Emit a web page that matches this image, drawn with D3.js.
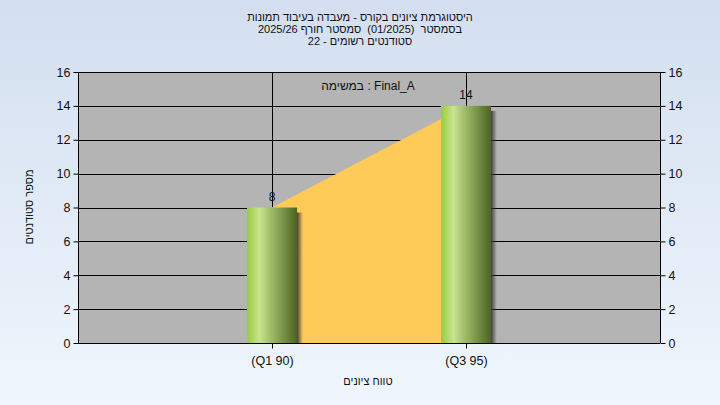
<!DOCTYPE html>
<html><head><meta charset="utf-8">
<script src="https://cdn.jsdelivr.net/npm/d3@7"></script>
<style>
html,body{margin:0;padding:0;}
svg{display:block;font-family:"Liberation Sans",Arial,sans-serif;}
</style></head>
<body>
<svg id="chart" width="720" height="405"></svg>
<script>
const categories = ["(Q1 90)", "(Q3 95)"];
const values = [8, 14];
const yTicks = [0, 2, 4, 6, 8, 10, 12, 14, 16];
const titleLines = ["היסטוגרמת ציונים בקורס - מעבדה בעיבוד תמונות", "בסמסטר  (01/2025)  סמסטר חורף 2025/26", "סטודנטים רשומים - 22"];
const annotation = "במשימה : Final_A";
const xTitle = "טווח ציונים";
const yTitle = "מספר סטודנטים";

const W = 720, H = 405;
const svg = d3.select("#chart");
const defs = svg.append("defs");

const bg = defs.append("linearGradient").attr("id","bg").attr("x1",0).attr("y1",0).attr("x2",0).attr("y2",1);
bg.append("stop").attr("offset","0%").attr("stop-color","#d3dff0");
bg.append("stop").attr("offset","100%").attr("stop-color","#eff6fd");
svg.append("rect").attr("width",W).attr("height",H).attr("fill","url(#bg)");

const barG = defs.append("linearGradient").attr("id","barg").attr("x1",0).attr("y1",0).attr("x2",1).attr("y2",0);
[[0,"#9acb3e"],[0.25,"#c8e48e"],[0.55,"#94b060"],[1,"#4b6422"]].forEach(([o,c])=>barG.append("stop").attr("offset",o).attr("stop-color",c));
const shG = defs.append("linearGradient").attr("id","shg").attr("x1",0).attr("y1",0).attr("x2",1).attr("y2",0);
shG.append("stop").attr("offset","0%").attr("stop-color","#333").attr("stop-opacity",0.9);
shG.append("stop").attr("offset","100%").attr("stop-color","#333").attr("stop-opacity",0);

const m = {l:78, r:660, t:72, b:343};
const x = d3.scaleLinear().domain([0, categories.length+1]).range([m.l, m.r]);
const y = d3.scaleLinear().domain([0, 16]).range([m.b, m.t]);
const barW = 50;

// plot background
svg.append("rect").attr("x",m.l).attr("y",m.t).attr("width",m.r-m.l).attr("height",m.b-m.t).attr("fill","#b4b4b4");

// grid
svg.append("g").selectAll("line").data(yTicks).join("line")
  .attr("x1",m.l).attr("x2",m.r).attr("y1",d=>Math.round(y(d))+0.5).attr("y2",d=>Math.round(y(d))+0.5)
  .attr("stroke","#000").attr("stroke-width",1);
svg.append("g").selectAll("line").data(categories).join("line")
  .attr("x1",(d,i)=>Math.round(x(i+1))+0.5).attr("x2",(d,i)=>Math.round(x(i+1))+0.5)
  .attr("y1",m.t).attr("y2",m.b).attr("stroke","#000").attr("stroke-width",1);

// area
const area = d3.area().x((d,i)=>x(i+1)).y0(y(0)).y1(d=>y(d));
svg.append("path").datum(values).attr("d",area).attr("fill","#fecb58");

// bar shadows
svg.append("g").selectAll("rect").data(values).join("rect")
  .attr("x",(d,i)=>x(i+1)+barW/2).attr("y",d=>y(d)+5).attr("width",6).attr("height",d=>y(0)-y(d)-5)
  .attr("fill","url(#shg)");
// bars
svg.append("g").selectAll("rect").data(values).join("rect")
  .attr("x",(d,i)=>x(i+1)-barW/2).attr("y",d=>y(d)).attr("width",barW).attr("height",d=>y(0)-y(d))
  .attr("fill","url(#barg)");

// axes
const yl = d3.axisLeft(y).tickValues(yTicks).tickSize(5).tickPadding(3);
const yr = d3.axisRight(y).tickValues(yTicks).tickSize(5).tickPadding(3);
const gl = svg.append("g").attr("transform",`translate(${m.l+0.5},0)`).call(yl);
const gr = svg.append("g").attr("transform",`translate(${m.r+0.5},0)`).call(yr);
const xb = d3.axisBottom(d3.scaleLinear().domain(x.domain()).range(x.range()))
  .tickValues(categories.map((d,i)=>i+1)).tickFormat((d)=>categories[d-1]).tickSize(5).tickPadding(8);
const gb = svg.append("g").attr("transform",`translate(0,${m.b+0.5})`).call(xb);
[gl,gr,gb].forEach(g=>{
  g.select(".domain").attr("stroke","#000");
  g.selectAll(".tick line").attr("stroke","#000");
  g.selectAll("text").attr("fill","#111").attr("font-size",12.5).attr("font-family","'Liberation Sans',Arial,sans-serif");
});
gb.select(".domain").attr("d",`M${m.l},0H${m.r}`);
gl.select(".domain").attr("d",`M0,${m.t}V${m.b}`);
gr.select(".domain").attr("d",`M0,${m.t}V${m.b}`);

// value labels
svg.append("g").selectAll("text").data(values).join("text")
  .attr("x",(d,i)=>x(i+1)).attr("y",d=>y(d)-7).attr("text-anchor","middle")
  .attr("font-size",12).attr("fill","#111").text(d=>d);

// annotation
svg.append("text").attr("x",368).attr("y",90).attr("text-anchor","middle").attr("font-size",12).attr("fill","#111").text(annotation);

// titles
svg.append("g").selectAll("text").data(titleLines).join("text")
  .attr("x",360).attr("y",(d,i)=>21+i*12).attr("text-anchor","middle").attr("font-size",11).attr("fill","#111")
  .attr("direction","rtl").attr("unicode-bidi","plaintext").style("white-space","pre").text(d=>d);
svg.append("text").attr("x",368).attr("y",385).attr("text-anchor","middle").attr("font-size",11).attr("fill","#111").text(xTitle);
svg.append("text").attr("transform","translate(33,207) rotate(-90)").attr("text-anchor","middle").attr("font-size",11).attr("fill","#111").text(yTitle);
</script>
</body></html>
